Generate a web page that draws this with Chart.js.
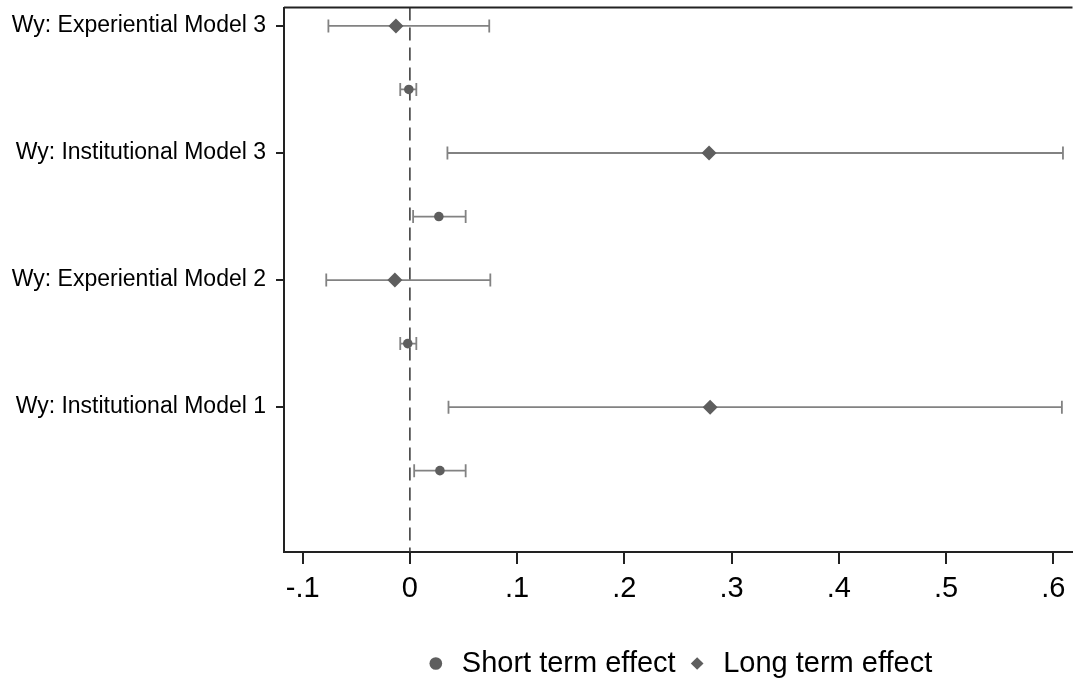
<!DOCTYPE html>
<html>
<head>
<meta charset="utf-8">
<script src="https://cdn.jsdelivr.net/npm/chart.js@4/dist/chart.umd.min.js"></script>
<style>
  html, body { margin: 0; padding: 0; background: #fff; overflow: hidden; }
  #wrap { width: 1080px; height: 681px; position: relative; }
</style>
</head>
<body>
<div id="wrap"><canvas id="coefChart"></canvas></div>
<script>
// one label per model; long term estimate sits on the labelled row, short term one row below
const models = [
  "Wy: Experiential Model 3",
  "Wy: Institutional Model 3",
  "Wy: Experiential Model 2",
  "Wy: Institutional Model 1",
];
const longEst = [-0.013, 0.279, -0.014, 0.280];
const longLo = [-0.076, 0.035, -0.078, 0.036];
const longHi = [0.074, 0.609, 0.075, 0.608];
const shortEst = [-0.001, 0.027, -0.002, 0.028];
const shortLo = [-0.009, 0.003, -0.009, 0.004];
const shortHi = [0.006, 0.052, 0.006, 0.052];
const xTicks = [-0.1, 0, 0.1, 0.2, 0.3, 0.4, 0.5, 0.6];

const pointColor = "#5e5e5e";
const barColor = "#828282";
const font = "'Liberation Sans', Arial, sans-serif";

const longPts = longEst.map((v, i) => ({ x: v, y: i * 2, lo: longLo[i], hi: longHi[i] }));
const shortPts = shortEst.map((v, i) => ({ x: v, y: i * 2 + 1, lo: shortLo[i], hi: shortHi[i] }));

const fmtTick = (v) => {
  if (Math.abs(v) < 1e-9) return "0";
  return (v < 0 ? "-" : "") + "." + Math.round(Math.abs(v) * 10);
};

// confidence intervals, zero line and top frame line
const extras = {
  id: "extras",
  beforeDatasetsDraw(chart) {
    const { ctx, chartArea, scales } = chart;
    const xs = scales.x;
    const ys = scales.y;
    ctx.save();

    const x0 = xs.getPixelForValue(0);
    ctx.strokeStyle = "#333";
    ctx.lineWidth = 1.5;
    ctx.setLineDash([13, 7]);
    ctx.beginPath();
    ctx.moveTo(x0, chartArea.top);
    ctx.lineTo(x0, chartArea.bottom);
    ctx.stroke();
    ctx.setLineDash([]);

    ctx.strokeStyle = barColor;
    ctx.lineWidth = 1.8;
    chart.data.datasets.forEach((ds) => {
      ds.data.forEach((p) => {
        const y = ys.getPixelForValue(p.y);
        const a = xs.getPixelForValue(p.lo);
        const b = xs.getPixelForValue(p.hi);
        ctx.beginPath();
        ctx.moveTo(a, y);
        ctx.lineTo(b, y);
        ctx.moveTo(a, y - 6.5);
        ctx.lineTo(a, y + 6.5);
        ctx.moveTo(b, y - 6.5);
        ctx.lineTo(b, y + 6.5);
        ctx.stroke();
      });
    });

    ctx.strokeStyle = "#222";
    ctx.lineWidth = 2;
    ctx.beginPath();
    ctx.moveTo(chartArea.left, chartArea.top);
    ctx.lineTo(chartArea.right, chartArea.top);
    ctx.stroke();
    ctx.restore();
  },
};

new Chart(document.getElementById("coefChart"), {
  type: "scatter",
  data: {
    datasets: [
      {
        label: "Short term effect",
        data: shortPts,
        pointStyle: "circle",
        pointRadius: 4.8,
        backgroundColor: pointColor,
        borderColor: pointColor,
        borderWidth: 0,
      },
      {
        label: "Long term effect",
        data: longPts,
        pointStyle: "rectRot",
        pointRadius: 7.5,
        backgroundColor: pointColor,
        borderColor: pointColor,
        borderWidth: 0,
      },
    ],
  },
  options: {
    responsive: true,
    maintainAspectRatio: false,
    animation: false,
    layout: { padding: { top: 7, right: 0, bottom: -7, left: 0 } },
    plugins: {
      tooltip: { enabled: false },
      legend: {
        position: "bottom",
        fullSize: false,
        labels: {
          usePointStyle: true,
          boxWidth: 23,
          boxHeight: 9,
          padding: 10,
          color: "#000",
          font: { family: font, size: 29 },
        },
      },
    },
    scales: {
      x: {
        type: "linear",
        min: -0.1174,
        max: 0.6179,
        afterBuildTicks: (s) => {
          s.ticks = xTicks.map((v) => ({ value: v }));
        },
        afterFit: (s) => {
          s.height = 87;
          s.paddingLeft = 0;
          s.paddingRight = 0;
        },
        ticks: {
          callback: (v) => fmtTick(v),
          color: "#000",
          padding: 8,
          maxRotation: 0,
          font: { family: font, size: 29 },
        },
        grid: {
          display: true,
          drawOnChartArea: false,
          drawTicks: true,
          tickLength: 12,
          color: "#222",
          lineWidth: 2,
        },
        border: { display: true, color: "#222", width: 2 },
      },
      y: {
        type: "linear",
        reverse: true,
        min: -0.29,
        max: 8.28,
        afterBuildTicks: (s) => {
          s.ticks = models.map((m, i) => ({ value: i * 2 }));
        },
        afterFit: (s) => {
          s.width = 284;
          s.paddingTop = 0;
          s.paddingBottom = 0;
        },
        ticks: {
          callback: (v) => models[Math.round(v / 2)] || "",
          color: "#000",
          padding: 10,
          font: { family: font, size: 23 },
        },
        grid: {
          display: true,
          drawOnChartArea: false,
          drawTicks: true,
          tickLength: 8,
          color: "#222",
          lineWidth: 2,
        },
        border: { display: true, color: "#222", width: 2 },
      },
    },
  },
  plugins: [extras],
});
</script>
</body>
</html>
